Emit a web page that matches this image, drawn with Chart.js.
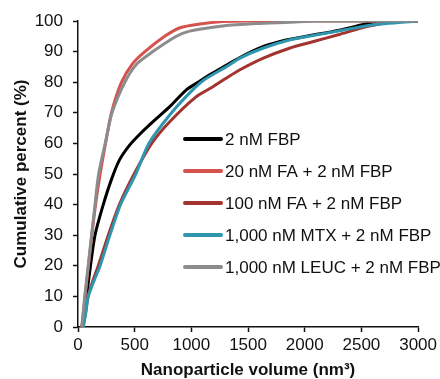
<!DOCTYPE html>
<html>
<head>
<meta charset="utf-8">
<script src="https://cdn.jsdelivr.net/npm/chart.js@4.4.1/dist/chart.umd.min.js"></script>
<style>
html, body { margin: 0; padding: 0; background: #fff; }
#wrap { width: 440px; height: 379px; }
</style>
</head>
<body>
<div id="wrap"><canvas id="myChart" width="440" height="379"></canvas></div>
<script>
// series labels and colours
var names = ['2 nM FBP', '20 nM FA + 2 nM FBP', '100 nM FA + 2 nM FBP', '1,000 nM MTX + 2 nM FBP', '1,000 nM LEUC + 2 nM FBP'];
var colors = ['#000000', '#D6524D', '#A2332F', '#2F96B0', '#8C8C8C'];

// 2 nM FBP
var fbpVol = [35, 75, 110, 150, 215, 293, 366, 457, 545, 662, 809, 956, 1073, 1161, 1425, 1630, 1835, 2070, 2304, 2540, 2650, 3000];
var fbpPct = [0, 10, 20, 30, 39, 48, 54.6, 59.5, 63, 67.1, 72, 77.5, 80.3, 82.4, 88, 91.6, 93.8, 95.4, 97, 99.1, 100, 100];
// 20 nM FA
var fa20Vol = [35, 62, 92, 122, 155, 195, 243, 295, 384, 480, 590, 765, 900, 1073, 1275, 1500, 3000];
var fa20Pct = [0, 10, 20, 30, 40, 50, 60, 70, 80, 86, 90, 95, 97.8, 99, 99.8, 100, 100];
// 100 nM FA
var fa100Vol = [45, 68, 88, 130, 179, 267, 365, 495, 650, 809, 1044, 1190, 1307, 1425, 1630, 1865, 2070, 2304, 2539, 2744, 2820, 3000];
var fa100Pct = [0, 5, 10, 15, 20, 30, 40, 50, 60, 67.1, 75.3, 78.5, 81.3, 84, 87.8, 91.1, 93.2, 95.6, 98.1, 99.6, 100, 100];
// 1,000 nM MTX
var mtxVol = [47, 70, 91, 140, 195, 281, 375, 510, 625, 809, 985, 1102, 1307, 1425, 1630, 1865, 2097, 2333, 2597, 3000];
var mtxPct = [0, 5, 10, 15, 20, 30, 40, 50, 60, 69.3, 76.5, 80.5, 85, 87.8, 91.1, 93.8, 95.4, 97, 98.7, 100];
// 1,000 nM LEUC
var leucVol = [33, 60, 90, 120, 150, 182, 240, 300, 413, 520, 660, 868, 985, 1275, 1572, 1865, 2100, 3000];
var leucPct = [0, 10, 20, 30, 40, 50, 60, 70, 80, 86, 90, 95, 96.7, 98.4, 99.2, 99.6, 100, 100];

var xTicks = [0, 500, 1000, 1500, 2000, 2500, 3000];
var yTicks = [0, 10, 20, 30, 40, 50, 60, 70, 80, 90, 100];

function pts(xs, ys) {
    var out = [];
    for (var i = 0; i < xs.length; ++i) out.push({x: xs[i], y: ys[i]});
    return out;
}

var series = [pts(fbpVol, fbpPct), pts(fa20Vol, fa20Pct), pts(fa100Vol, fa100Pct), pts(mtxVol, mtxPct), pts(leucVol, leucPct)];
var t_sets = [];
for (var i = 0; i < series.length; ++i) {
    t_sets.push({
        label: names[i],
        data: series[i],
        borderColor: colors[i],
        backgroundColor: colors[i],
        borderWidth: 3,
        pointRadius: 0,
        tension: 0.25,
        fill: false,
        order: series.length - i
    });
}

// legend drawn inside the plot area
var innerLegend = {
    id: 'innerLegend',
    afterDatasetsDraw: function(chart) {
        var c = chart.ctx, a = chart.chartArea;
        c.save();
        c.font = '17px "Liberation Sans", Arial, sans-serif';
        c.textBaseline = 'middle';
        c.lineCap = 'round';
        for (var i = 0; i < names.length; ++i) {
            var y = a.top + 118 + i * 32;
            c.strokeStyle = colors[i];
            c.lineWidth = 4;
            c.beginPath();
            c.moveTo(a.left + 107, y);
            c.lineTo(a.left + 143, y);
            c.stroke();
            c.fillStyle = '#111';
            c.fillText(names[i], a.left + 147, y + 1);
        }
        c.restore();
    }
};

Chart.defaults.font.family = '"Liberation Sans", Arial, sans-serif';
Chart.defaults.color = '#111';

var ctx = document.getElementById('myChart').getContext('2d');
var chart = new Chart(ctx, {
    type: 'line',
    data: { datasets: t_sets },
    plugins: [innerLegend],
    options: {
        responsive: false,
        animation: false,
        layout: { padding: { top: 21, right: 21, left: 10, bottom: 0 } },
        plugins: { legend: { display: false }, tooltip: { enabled: false } },
        scales: {
            x: {
                type: 'linear',
                min: 0, max: 3000,
                afterBuildTicks: function(s) { s.ticks = xTicks.map(function(v) { return {value: v}; }); },
                afterFit: function(s) { s.height = 52; },
                grid: { drawOnChartArea: false, drawTicks: true, tickLength: 5, tickColor: '#111', tickWidth: 1.5 },
                border: { display: true, color: '#111', width: 1.5 },
                ticks: { font: { size: 17 }, padding: 3, maxRotation: 0, callback: function(v) { return String(v); } },
                title: { display: true, text: 'Nanoparticle volume (nm\u00B3)', font: { size: 17, weight: 'bold', lineHeight: 1 }, padding: { top: 0, bottom: 0 } }
            },
            y: {
                min: 0, max: 100,
                afterBuildTicks: function(s) { s.ticks = yTicks.map(function(v) { return {value: v}; }); },
                afterFit: function(s) { s.width = 68; },
                grid: { drawOnChartArea: false, drawTicks: true, tickLength: 5, tickColor: '#111', tickWidth: 1.5 },
                border: { display: true, color: '#111', width: 1.5 },
                ticks: { font: { size: 17 }, padding: 10 },
                title: { display: true, text: 'Cumulative percent (%)', font: { size: 17, weight: 'bold', lineHeight: 1 }, padding: { top: 3, bottom: 0 } }
            }
        }
    }
});
</script>
</body>
</html>
